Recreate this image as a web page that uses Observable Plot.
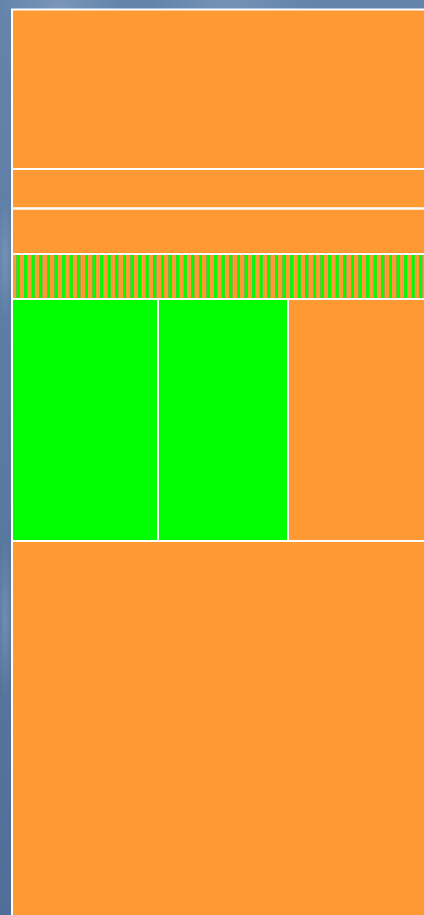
<!DOCTYPE html>
<html>
<head>
<meta charset="utf-8">
<script src="https://cdn.jsdelivr.net/npm/d3@7"></script>
<script src="https://cdn.jsdelivr.net/npm/@observablehq/plot@0.6"></script>
<style>
  html, body { margin: 0; padding: 0; width: 424px; height: 915px; overflow: hidden; }
  body {
    background:
      radial-gradient(ellipse 60px 30px at 60px 6px, rgba(140,165,195,0.55), rgba(140,165,195,0) 100%),
      radial-gradient(ellipse 80px 25px at 230px 4px, rgba(140,165,195,0.45), rgba(140,165,195,0) 100%),
      radial-gradient(ellipse 8px 60px at 5px 260px, rgba(140,165,195,0.5), rgba(140,165,195,0) 100%),
      radial-gradient(ellipse 8px 80px at 5px 620px, rgba(140,165,195,0.5), rgba(140,165,195,0) 100%),
      linear-gradient(180deg, #6484ab 0%, #5a7aa2 50%, #4f6f98 100%);
  }
  #chart { position: absolute; left: 0; top: 0; }
</style>
</head>
<body>
<div id="chart"></div>
<script>
// ---- data ----
const ORANGE = "#ff9933";
const GREEN = "#00ff00";

// horizontal bands, top to bottom (heights in layout units)
const rowNames   = ["A", "B", "C", "D", "E", "F"];
const rowHeights = [159.5, 39.5, 45.5, 45, 242, 380];
const rowKinds   = ["solid", "solid", "solid", "stripes", "split", "solid"];

// cells inside band E, left to right
const splitNames  = ["E1", "E2", "E3"];
const splitWidths = [146, 130, 150];
const splitFills  = [GREEN, GREEN, ORANGE];

// striped band D: repeating orange / green pairs
const stripePair   = [4.6, 3.0];      // widths of orange, green
const stripeFills  = [ORANGE, GREEN];
const stripePairs  = 56;

// ---- layout from the data ----
const totalW = d3.sum(splitWidths);
const totalH = d3.sum(rowHeights);
const rowY = d3.cumsum([0, ...rowHeights]);
const splitX = d3.cumsum([0, ...splitWidths]);

const cells = [];
const stripes = [];
rowNames.forEach((name, i) => {
  const y1 = rowY[i], y2 = rowY[i + 1];
  const kind = rowKinds[i];
  if (kind === "solid") {
    cells.push({name, x1: 0, x2: totalW, y1, y2, fill: ORANGE});
  } else if (kind === "split") {
    splitNames.forEach((s, j) => cells.push({name: s, x1: splitX[j], x2: splitX[j + 1], y1, y2, fill: splitFills[j]}));
  } else if (kind === "stripes") {
    let x = 0;
    for (let k = 0; k < stripePairs; ++k) {
      stripePair.forEach((w, m) => {
        stripes.push({x1: x, x2: Math.min(x + w, totalW), y1, y2, fill: stripeFills[m]});
        x += w;
      });
    }
    cells.push({name, x1: 0, x2: totalW, y1, y2, fill: "none", band: true});
  }
});

const chart = Plot.plot({
  width: 424,
  height: 915,
  margin: 0,
  style: {background: "transparent", overflow: "hidden"},
  x: {domain: [0, totalW], range: [12, 12 + totalW], axis: null},
  y: {domain: [0, totalH], range: [9.5, 9.5 + totalH], axis: null},
  marks: [
    Plot.rect(cells.filter(d => !d.band), {x1: "x1", x2: "x2", y1: "y1", y2: "y2", fill: "fill"}),
    Plot.rect(stripes.filter(d => d.x2 > d.x1), {x1: "x1", x2: "x2", y1: "y1", y2: "y2", fill: "fill", imageFilter: "blur(0.5px)"}),
    Plot.rect(cells, {x1: "x1", x2: "x2", y1: "y1", y2: "y2", fill: "none", stroke: "white", strokeWidth: 2})
  ]
});
document.getElementById("chart").appendChild(chart);
</script>
</body>
</html>
